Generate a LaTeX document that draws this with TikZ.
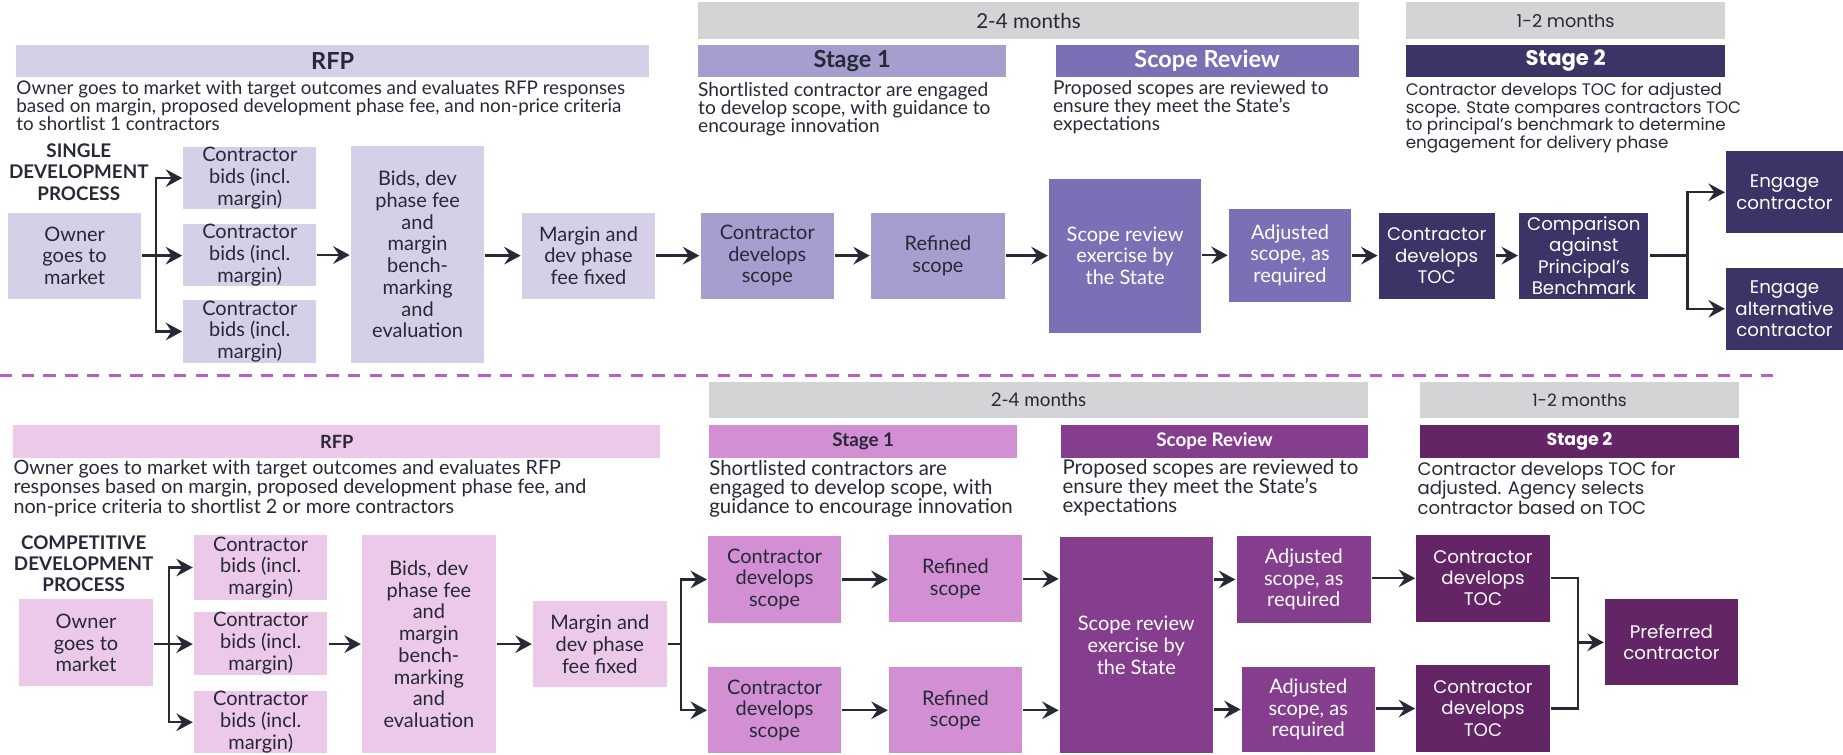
\documentclass[tikz,border=0pt]{standalone}
\usepackage{fontspec}
\setmainfont{Lato}
\newfontfamily\widefont{Poppins}
\usetikzlibrary{arrows.meta}

\definecolor{inkc}{HTML}{262936}
\definecolor{greyb}{HTML}{D3D4D6}
\definecolor{sdRfp}{HTML}{D5D0E7}
\definecolor{sdStageA}{HTML}{A49FCF}
\definecolor{sdReview}{HTML}{7B70B6}
\definecolor{sdStageB}{HTML}{3C3466}
\definecolor{cdRfp}{HTML}{ECC8E9}
\definecolor{cdStageA}{HTML}{D38FD4}
\definecolor{cdReview}{HTML}{853E8E}
\definecolor{cdStageB}{HTML}{632566}
\definecolor{dashc}{HTML}{B560C2}

\tikzset{every picture/.style={line width=2pt}}
\tikzset{
  stepbox/.style={rectangle, inner sep=0pt, align=center, text=inkc, font=\fontsize{17}{18.5}\selectfont},
  darkbox/.style={stepbox, text=white},
  tocbox/.style={stepbox, text=white, font=\widefont\fontsize{15.5}{18}\selectfont},
  barbox/.style={rectangle, inner sep=0pt, anchor=north west, text=inkc},
  spanbar/.style={barbox, fill=greyb, minimum height=31pt},
  headbar/.style={barbox, minimum height=27.5pt, font=\bfseries\fontsize{20}{22}\selectfont},
  notetext/.style={anchor=north west, inner sep=0pt, align=left, text=inkc},
  proclabel/.style={align=center, inner sep=0pt, text=inkc, font=\bfseries\fontsize{16}{18}\selectfont},
  wire/.style={draw=inkc},
  flow/.style={draw=inkc, -{Stealth[length=14pt,width=15pt,inset=5pt]}},
}

\begin{document}
\begin{tikzpicture}[x=1pt,y=1pt,yscale=-1,xscale=1]
\path[use as bounding box] (0,0) rectangle (1568,642);

%Single development process: time spans and headers
\node[spanbar, minimum width=562pt, font=\fontsize{17.5}{20}\selectfont] (monthsA) at (593,1) {2-4 months};
\node[spanbar, minimum width=272pt, font=\widefont\fontsize{15}{18}\selectfont] (shortA) at (1195,1) {1-2 months};
\node[headbar, fill=sdRfp, minimum width=538pt] (rfpA) at (13,37) {RFP};
\node[headbar, fill=sdStageA, minimum width=262pt] (stageoneA) at (593,37) {Stage 1};
\node[headbar, fill=sdReview, minimum width=258pt, text=white] (reviewA) at (897,37) {Scope Review};
\node[headbar, fill=sdStageB, minimum width=272pt, text=white, font=\widefont\bfseries\fontsize{18}{20}\selectfont] (stagetwoA) at (1195,37) {Stage 2};

%Single development process: notes
\node[notetext, font=\fontsize{16}{15.4}\selectfont] (rfpAtxt) at (13,67.5) {Owner goes to market with target outcomes and evaluates RFP responses\\based on margin, proposed development phase fee, and non-price criteria\\to shortlist 1 contractors};
\node[notetext, font=\fontsize{16.3}{15.2}\selectfont] (stageoneAtxt) at (593,69) {Shortlisted contractor are engaged\\to develop scope, with guidance to\\encourage innovation};
\node[notetext, font=\fontsize{16.2}{15.4}\selectfont] (reviewAtxt) at (895,67.5) {Proposed scopes are reviewed to\\ensure they meet the State’s\\expectations};
\node[notetext, font=\widefont\fontsize{14.2}{14.9}\selectfont] (stagetwoAtxt) at (1195,69.5) {Contractor develops TOC for adjusted\\scope. State compares contractors TOC\\to principal’s benchmark to determine\\engagement for delivery phase};
\node[proclabel] (singleA) at (67,146.5) {SINGLE\\DEVELOPMENT\\PROCESS};

%Single development process: boxes
\node[stepbox, fill=sdRfp, minimum width=113pt, minimum height=73pt] (ownerA) at (63.5,217.5) {Owner\\goes to\\market};
\node[stepbox, fill=sdRfp, minimum width=113pt, minimum height=53pt] (bidA1) at (212.5,151.5) {Contractor\\bids (incl.\\margin)};
\node[stepbox, fill=sdRfp, minimum width=113pt, minimum height=53pt] (bidA2) at (212.5,217) {Contractor\\bids (incl.\\margin)};
\node[stepbox, fill=sdRfp, minimum width=113pt, minimum height=53pt] (bidA3) at (212.5,282) {Contractor\\bids (incl.\\margin)};
\node[stepbox, fill=sdRfp, minimum width=113.5pt, minimum height=184.5pt] (evalA) at (355.3,216.5) {Bids, dev\\phase fee\\and\\margin\\bench-\\marking\\and\\evaluation};
\node[stepbox, fill=sdRfp, minimum width=113.5pt, minimum height=73pt] (feeA) at (500.7,217.5) {Margin and\\dev phase\\fee fixed};
\node[stepbox, fill=sdStageA, minimum width=113.6pt, minimum height=73pt] (devA) at (652.8,217.5) {Contractor\\develops\\scope};
\node[stepbox, fill=sdStageA, minimum width=114pt, minimum height=73pt] (refA) at (798,217.5) {Refined\\scope};
\node[darkbox, fill=sdReview, minimum width=129.5pt, minimum height=130.7pt] (revA) at (957.2,217.6) {Scope review\\exercise by\\the State};
\node[darkbox, fill=sdReview, minimum width=104pt, minimum height=79pt] (adjA) at (1097.5,217.2) {Adjusted\\scope, as\\required};
\node[tocbox, fill=sdStageB, minimum width=98.6pt, minimum height=73pt] (tocA) at (1222.3,217.5) {Contractor\\develops\\TOC};
\node[tocbox, fill=sdStageB, minimum width=110pt, minimum height=73pt] (cmpA) at (1347.5,217.5) {Comparison\\against\\Principal’s\\Benchmark};
\node[tocbox, fill=sdStageB, minimum width=99.5pt, minimum height=70pt] (engA) at (1518.25,163.6) {Engage\\contractor};
\node[tocbox, fill=sdStageB, minimum width=99.5pt, minimum height=69.5pt] (altA) at (1518.25,262.7) {Engage\\alternative\\contractor};

%Single development process: connectors
\coordinate (busA) at (132.5,217.5);
\coordinate (splitA) at (1435.8,217.5);
\draw[wire] (ownerA.east) -- (busA);
\draw[flow] (busA) |- (bidA1.west);
\draw[flow] (busA) -- (bidA2.west |- busA);
\draw[flow] (busA) |- (bidA3.west);
\draw[flow] (bidA2.east) -- (bidA2.east -| evalA.west);
\draw[flow] (feeA.west -| evalA.east) -- (feeA.west);
\draw[flow] (feeA.east) -- (devA.west);
\draw[flow] (devA.east) -- (refA.west);
\draw[flow] (refA.east) -- (refA.east -| revA.west);
\draw[flow] (adjA.west -| revA.east) -- (adjA.west);
\draw[flow] (tocA.west -| adjA.east) -- (tocA.west);
\draw[flow] (tocA.east) -- (cmpA.west);
\draw[wire] (cmpA.east) -- (splitA);
\draw[flow] (splitA) |- (engA.west);
\draw[flow] (splitA) |- (altA.west);

%Divider
\coordinate (dashL) at (0,319.5);
\coordinate (dashR) at (1508.5,319.5);
\draw[dashc, line width=2.8pt, dash pattern=on 10.5pt off 8pt] (dashL) -- (dashR);

%Competitive development process: time spans and headers
\node[spanbar, minimum width=560.2pt, minimum height=30.3pt, font=\fontsize{16}{18}\selectfont] (monthsB) at (602.5,324.2) {2-4 months};
\node[spanbar, minimum width=271.1pt, minimum height=30.3pt, font=\widefont\fontsize{14.5}{17}\selectfont] (shortB) at (1207.3,324.2) {1-2 months};
\node[headbar, fill=cdRfp, minimum width=550.6pt, minimum height=27.9pt, font=\bfseries\fontsize{15.5}{18}\selectfont] (rfpB) at (10.3,360.7) {RFP};
\node[headbar, fill=cdStageA, minimum width=261.9pt, minimum height=27.9pt, font=\bfseries\fontsize{16}{18}\selectfont] (stageoneB) at (602.5,360.7) {Stage 1};
\node[headbar, fill=cdReview, minimum width=260.8pt, minimum height=27.9pt, text=white, font=\bfseries\fontsize{16}{18}\selectfont] (reviewB) at (901.9,360.7) {Scope Review};
\node[headbar, fill=cdStageB, minimum width=271.1pt, minimum height=27.9pt, text=white, font=\widefont\bfseries\fontsize{14.8}{17}\selectfont] (stagetwoB) at (1207.3,360.7) {Stage 2};

%Competitive development process: notes
\node[notetext, font=\fontsize{16.8}{16.3}\selectfont] (rfpBtxt) at (10.5,390.5) {Owner goes to market with target outcomes and evaluates RFP\\responses based on margin, proposed development phase fee, and\\non-price criteria to shortlist 2 or more contractors};
\node[notetext, font=\fontsize{17.4}{16.4}\selectfont] (stageoneBtxt) at (602.5,390.5) {Shortlisted contractors are\\engaged to develop scope, with\\guidance to encourage innovation};
\node[notetext, font=\fontsize{17.4}{16.4}\selectfont] (reviewBtxt) at (903,389.5) {Proposed scopes are reviewed to\\ensure they meet the State’s\\expectations};
\node[notetext, font=\widefont\fontsize{15.4}{15.4}\selectfont] (stagetwoBtxt) at (1205,391.5) {Contractor develops TOC for\\adjusted. Agency selects\\contractor based on TOC};
\node[proclabel] (compB) at (71.2,479.5) {COMPETITIVE\\DEVELOPMENT\\PROCESS};

%Competitive development process: boxes
\node[stepbox, fill=cdRfp, minimum width=114pt, minimum height=74pt] (ownerB) at (73.2,547) {Owner\\goes to\\market};
\node[stepbox, fill=cdRfp, minimum width=113.6pt, minimum height=55.3pt] (bidB1) at (221.8,482.8) {Contractor\\bids (incl.\\margin)};
\node[stepbox, fill=cdRfp, minimum width=113.6pt, minimum height=53.3pt] (bidB2) at (221.8,547.3) {Contractor\\bids (incl.\\margin)};
\node[stepbox, fill=cdRfp, minimum width=113.6pt, minimum height=53.1pt] (bidB3) at (221.8,614.5) {Contractor\\bids (incl.\\margin)};
\node[stepbox, fill=cdRfp, minimum width=113.8pt, minimum height=186pt] (evalB) at (364.9,548) {Bids, dev\\phase fee\\and\\margin\\bench-\\marking\\and\\evaluation};
\node[stepbox, fill=cdRfp, minimum width=113.7pt, minimum height=73.4pt] (feeB) at (510.3,548) {Margin and\\dev phase\\fee fixed};
\node[stepbox, fill=cdStageA, minimum width=113pt, minimum height=74pt] (devB1) at (659,493) {Contractor\\develops\\scope};
\node[stepbox, fill=cdStageA, minimum width=113pt, minimum height=73.5pt] (devB2) at (659,604.3) {Contractor\\develops\\scope};
\node[stepbox, fill=cdStageA, minimum width=113.2pt, minimum height=74pt] (refB1) at (812.9,492.5) {Refined\\scope};
\node[stepbox, fill=cdStageA, minimum width=113.2pt, minimum height=73.5pt] (refB2) at (812.9,604.3) {Refined\\scope};
\node[darkbox, fill=cdReview, minimum width=130pt, minimum height=184pt] (revB) at (966.7,549) {Scope review\\exercise by\\the State};
\node[darkbox, fill=cdReview, minimum width=114.4pt, minimum height=74pt] (adjB1) at (1109.2,493) {Adjusted\\scope, as\\required};
\node[darkbox, fill=cdReview, minimum width=113pt, minimum height=72pt] (adjB2) at (1113,603.6) {Adjusted\\scope, as\\required};
\node[tocbox, fill=cdStageB, minimum width=113.4pt, minimum height=74pt] (tocB1) at (1261.7,492) {Contractor\\develops\\TOC};
\node[tocbox, fill=cdStageB, minimum width=113.4pt, minimum height=73.5pt] (tocB2) at (1261.7,602.8) {Contractor\\develops\\TOC};
\node[tocbox, fill=cdStageB, minimum width=113pt, minimum height=73pt] (prefB) at (1422,546.5) {Preferred\\contractor};

%Competitive development process: connectors
\coordinate (busB) at (143.9,548);
\coordinate (splitB) at (579.6,548);
\coordinate (joinB) at (1342.5,546.5);
\draw[wire] (ownerB.east |- busB) -- (busB);
\draw[flow] (busB) |- (bidB1.west);
\draw[flow] (busB) -- (bidB2.west |- busB);
\draw[flow] (busB) |- (bidB3.west);
\draw[flow] (bidB2.east |- feeB.west) -- (evalB.west |- feeB.west);
\draw[flow] (feeB.west -| evalB.east) -- (feeB.west);
\draw[wire] (feeB.east) -- (splitB);
\draw[flow] (splitB) |- (devB1.west);
\draw[flow] (splitB) |- (devB2.west);
\draw[flow] (devB1.east) -- (devB1.east -| refB1.west);
\draw[flow] (devB2.east) -- (refB2.west);
\draw[flow] (refB1.east) -- (refB1.east -| revB.west);
\draw[flow] (refB2.east) -- (refB2.east -| revB.west);
\draw[flow] (adjB1.west -| revB.east) -- (adjB1.west);
\draw[flow] (adjB2.west -| revB.east) -- (adjB2.west);
\draw[flow] (tocB1.west -| adjB1.east) -- (tocB1.west);
\draw[flow] (tocB2.west -| adjB2.east) -- (tocB2.west);
\draw[wire] (tocB1.east) -| (joinB) |- (tocB2.east);
\draw[flow] (joinB) -- (prefB.west);

\end{tikzpicture}
\end{document}
